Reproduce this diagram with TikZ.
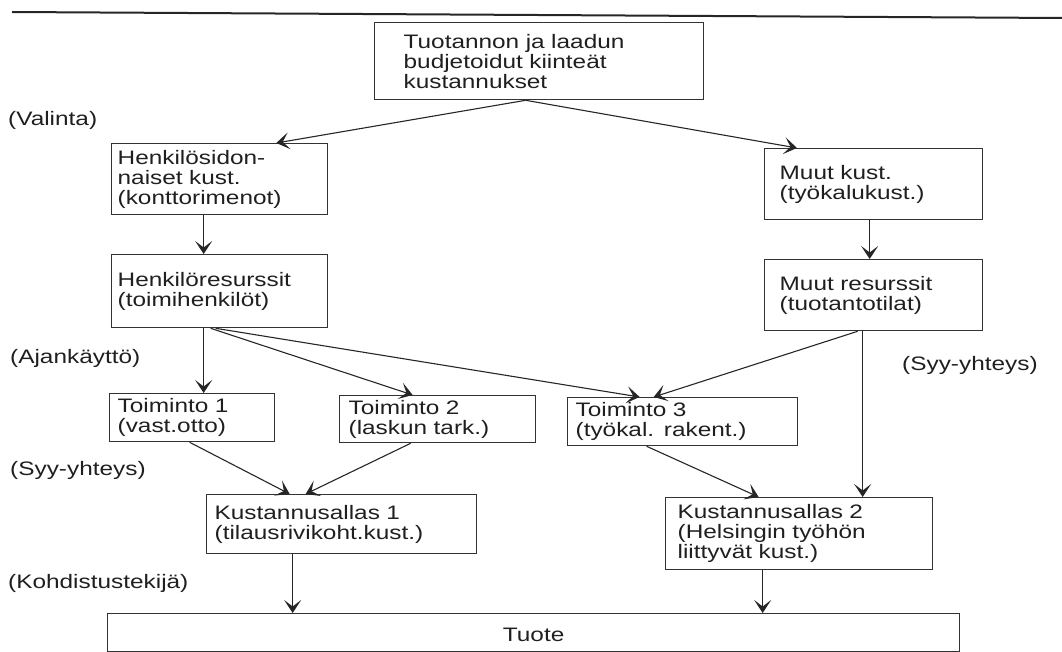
\documentclass[tikz,border=0pt]{standalone}
\usepackage{fontspec}
\setmainfont{Liberation Sans}[FakeStretch=1.25, WordSpace=1.3]
\usetikzlibrary{arrows.meta}
\begin{document}
\begin{tikzpicture}[x=1pt,y=-1pt,
  txt/.style={text=black!88, font=\fontsize{19.5}{20}\selectfont},
  box/.style={txt, draw=black!80, line width=1.3pt, align=left, anchor=north west, inner ysep=0pt},
  lbl/.style={txt, anchor=west, inner sep=0pt},
  flow/.style={draw=black!85, line width=1.1pt, -{Stealth[length=13pt,width=17pt,inset=6.5pt]}}]
\useasboundingbox (0,0) rectangle (1062,652);

% header rule
\draw[black!85, line width=2pt] (12,12) -- (1062,18);

% cost objects
\node[box, inner xsep=29pt, text width=271pt, minimum height=77pt] (top) at (374,22)
  {Tuotannon ja laadun\\budjetoidut kiinteät\\kustannukset};
\node[box, inner xsep=6pt, text width=204pt, minimum height=71pt] (hs) at (111,143)
  {Henkilösidon-\\naiset kust.\\(konttorimenot)};
\node[box, inner xsep=6pt, text width=204pt, minimum height=73pt] (hr) at (111,254)
  {Henkilöresurssit\\(toimihenkilöt)};
\node[box, inner xsep=15pt, text width=188pt, minimum height=71pt] (mk) at (764,148)
  {Muut kust.\\(työkalukust.)};
\node[box, inner xsep=15pt, text width=188pt, minimum height=71pt] (mr) at (764,259)
  {Muut resurssit\\(tuotantotilat)};
\node[box, inner xsep=8pt, text width=149pt, minimum height=48pt] (t1) at (109,393)
  {Toiminto 1\\(vast.otto)};
\node[box, inner xsep=9pt, text width=178pt, minimum height=47pt] (t2) at (339,395)
  {Toiminto 2\\(laskun tark.)};
\node[box, inner xsep=8pt, text width=214pt, minimum height=48pt] (t3) at (567,397)
  {Toiminto 3\\(työkal. rakent.)};
\node[box, inner xsep=8pt, text width=254pt, minimum height=59pt] (k1) at (206,494)
  {Kustannusallas 1\\(tilausrivikoht.kust.)};
\node[box, inner xsep=12pt, text width=243pt, minimum height=72pt] (k2) at (665,497)
  {Kustannusallas 2\\(Helsingin työhön\\liittyvät kust.)};
\node[box, align=center, inner sep=0pt, minimum width=852pt, minimum height=38pt,
  text height=18pt, text depth=0pt] (tuote) at (107,613) {Tuote};

% allocation bases
\node[lbl] (valinta) at (8,120) {(Valinta)};
\node[lbl] (ajank) at (10,358) {(Ajankäyttö)};
\node[lbl] (syy1) at (10,470) {(Syy-yhteys)};
\node[lbl] (kohd) at (8,583) {(Kohdistustekijä)};
\node[lbl] (syy2) at (902,365) {(Syy-yhteys)};

% flows
\draw[flow] ([xshift=-13.5pt]top.south) -- ([xshift=-52pt]hs.north east);
\draw[flow] ([xshift=-13.5pt]top.south) -- ([xshift=33pt]mk.north west);
\draw[flow] ([xshift=-16pt]hs.south) -- ([xshift=-16pt]hr.north);
\draw[flow] ([xshift=-4pt]mk.south) -- ([xshift=-4pt]mr.north);
\draw[flow] ([xshift=-16pt]hr.south) -- ([xshift=11.5pt]t1.north);
\draw[flow] ([xshift=-9pt]hr.south) -- ([xshift=-25pt]t2.north);
\draw[flow] ([xshift=-4pt]hr.south) -- ([xshift=-43pt]t3.north);
\draw[flow] ([xshift=-16pt]mr.south) -- ([xshift=-29pt]t3.north);
\draw[flow] ([xshift=-11pt]mr.south) -- ([xshift=63.5pt]k2.north);
\draw[flow] ([xshift=-2.5pt]t1.south) -- ([xshift=-52pt]k1.north);
\draw[flow] ([xshift=-27pt]t2.south) -- ([xshift=-36pt]k1.north);
\draw[flow] ([xshift=-36pt]t3.south) -- ([xshift=-40.5pt]k2.north);
\draw[flow] ([xshift=-49pt]k1.south) -- ([xshift=-241pt]tuote.north);
\draw[flow] ([xshift=-36.5pt]k2.south) -- ([xshift=229pt]tuote.north);
\end{tikzpicture}
\end{document}
